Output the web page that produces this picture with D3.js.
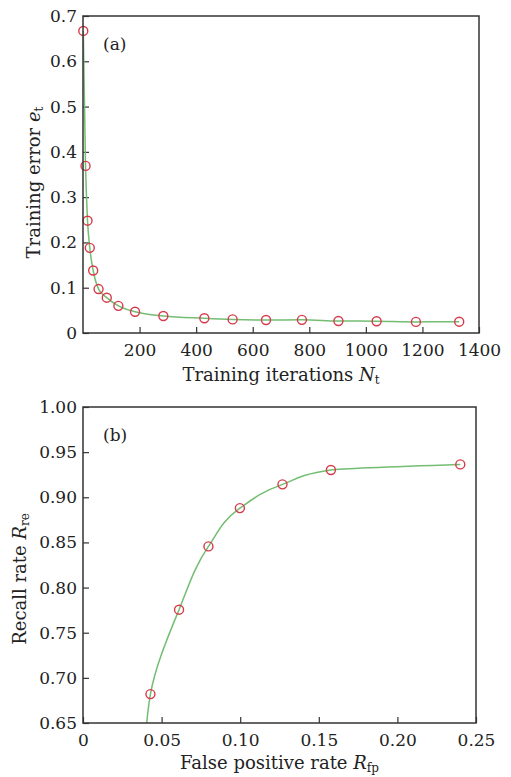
<!DOCTYPE html>
<html>
<head>
<meta charset="utf-8">
<script src="https://cdn.jsdelivr.net/npm/d3@7"></script>
<style>
  body { margin: 0; background: #fff; }
  svg text { font-family: "DejaVu Serif", serif; fill: #222; }
</style>
</head>
<body>
<svg id="chart" width="511" height="777"></svg>
<script>
// data (a)
const iterations = [1, 9, 16, 24, 36, 55, 84, 125, 184, 284, 429, 529, 647, 774, 903, 1038, 1177, 1330];
const trainError = [0.667, 0.369, 0.248, 0.188, 0.138, 0.097, 0.078, 0.060, 0.047, 0.0375, 0.0325, 0.030, 0.0287, 0.029, 0.0265, 0.026, 0.0245, 0.025];
const xTicksA = [200, 400, 600, 800, 1000, 1200, 1400];
const yTicksA = [0, 0.1, 0.2, 0.3, 0.4, 0.5, 0.6, 0.7];

// data (b)
const falsePos = [0.0429, 0.0611, 0.0798, 0.0998, 0.1269, 0.1577, 0.240];
const recall = [0.682, 0.7755, 0.8456, 0.888, 0.9143, 0.9302, 0.9364];
const curveStartB = [0.0405, 0.65];
const xTicksB = [0, 0.05, 0.10, 0.15, 0.20, 0.25];
const yTicksB = [0.65, 0.70, 0.75, 0.80, 0.85, 0.90, 0.95, 1.00];

const svg = d3.select("#chart");
const green = "#74bd72", red = "#d63a4a", frame = "#333";
const serif = "DejaVu Serif, serif";

function panel(opt) {
  const { left, right, top, bottom } = opt;
  const x = d3.scaleLinear().domain(opt.xDomain).range([left, right]);
  const y = d3.scaleLinear().domain(opt.yDomain).range([bottom, top]);
  const g = svg.append("g");

  // ticks
  const xa = g.append("g").attr("transform", `translate(0,${bottom})`)
    .call(d3.axisBottom(x).tickValues(opt.xTicks).tickFormat(opt.xFmt).tickSizeInner(-6).tickSizeOuter(0).tickPadding(11));
  const ya = g.append("g").attr("transform", `translate(${left},0)`)
    .call(d3.axisLeft(y).tickValues(opt.yTicks).tickFormat(opt.yFmt).tickSizeInner(-6).tickSizeOuter(0).tickPadding(6));
  [xa, ya].forEach(a => {
    a.attr("font-family", serif).attr("font-size", 17);
    a.select(".domain").remove();
    a.selectAll(".tick line").attr("stroke", frame).attr("stroke-width", 1.2);
    a.selectAll("text").attr("fill", "#222");
  });

  // line and markers
  const clip = "clip" + opt.tag;
  g.append("clipPath").attr("id", clip).append("rect")
    .attr("x", left).attr("y", top).attr("width", right - left).attr("height", bottom - top);
  g.append("path").datum(opt.line)
    .attr("clip-path", `url(#${clip})`)
    .attr("fill", "none").attr("stroke", green).attr("stroke-width", 1.5)
    .attr("d", d3.line().x(d => x(d[0])).y(d => y(d[1])).curve(opt.curve));
  g.selectAll("circle").data(opt.pts).join("circle")
    .attr("cx", d => x(d[0])).attr("cy", d => y(d[1])).attr("r", 4.5)
    .attr("fill", "none").attr("stroke", red).attr("stroke-width", 1.4);

  // frame
  g.append("rect").attr("x", left).attr("y", top)
    .attr("width", right - left).attr("height", bottom - top)
    .attr("fill", "none").attr("stroke", frame).attr("stroke-width", 1.5);

  // panel tag
  g.append("text").attr("x", left + 20).attr("y", top + 34)
    .attr("font-family", serif).attr("font-size", 17).text(opt.label);

  // axis titles
  const xt = g.append("text").attr("x", (left + right) / 2).attr("y", bottom + opt.xTitleDy)
    .attr("text-anchor", "middle").attr("font-family", serif).attr("font-size", 18);
  xt.append("tspan").text(opt.xTitle[0]);
  xt.append("tspan").attr("font-style", "italic").text(opt.xTitle[1]);
  xt.append("tspan").attr("font-size", 12).attr("dy", 3).text(opt.xTitle[2]);

  const yt = g.append("text")
    .attr("transform", `translate(${opt.yTitleX},${(top + bottom) / 2 + opt.yTitleShift}) rotate(-90)`)
    .attr("text-anchor", "middle").attr("font-family", serif).attr("font-size", 18);
  yt.append("tspan").text(opt.yTitle[0]);
  yt.append("tspan").attr("font-style", "italic").text(opt.yTitle[1]);
  yt.append("tspan").attr("font-size", 12).attr("dy", 3).text(opt.yTitle[2]);
}

const ptsA = iterations.map((v, i) => [v, trainError[i]]);
panel({
  tag: "a", left: 83, right: 479, top: 16, bottom: 333,
  xDomain: [0, 1400], yDomain: [0, 0.7],
  xTicks: xTicksA, yTicks: yTicksA,
  xFmt: d3.format("d"), yFmt: d => d === 0 ? "0" : d3.format(".1f")(d),
  pts: ptsA, line: ptsA, curve: d3.curveMonotoneX, label: "(a)",
  xTitle: ["Training iterations ", "N", "t"], xTitleDy: 48,
  yTitle: ["Training error ", "e", "t"],
  yTitleX: 40, yTitleShift: 8
});

const ptsB = falsePos.map((v, i) => [v, recall[i]]);
panel({
  tag: "b", left: 83, right: 476, top: 407, bottom: 723,
  xDomain: [0, 0.25], yDomain: [0.65, 1.0],
  xTicks: xTicksB, yTicks: yTicksB,
  xFmt: d => d === 0 ? "0" : d3.format(".2f")(d), yFmt: d3.format(".2f"),
  pts: ptsB, line: [curveStartB].concat(ptsB), curve: d3.curveMonotoneY, label: "(b)",
  xTitle: ["False positive rate ", "R", "fp"], xTitleDy: 46,
  yTitle: ["Recall rate ", "R", "re"],
  yTitleX: 26, yTitleShift: 14
});
</script>
</body>
</html>
